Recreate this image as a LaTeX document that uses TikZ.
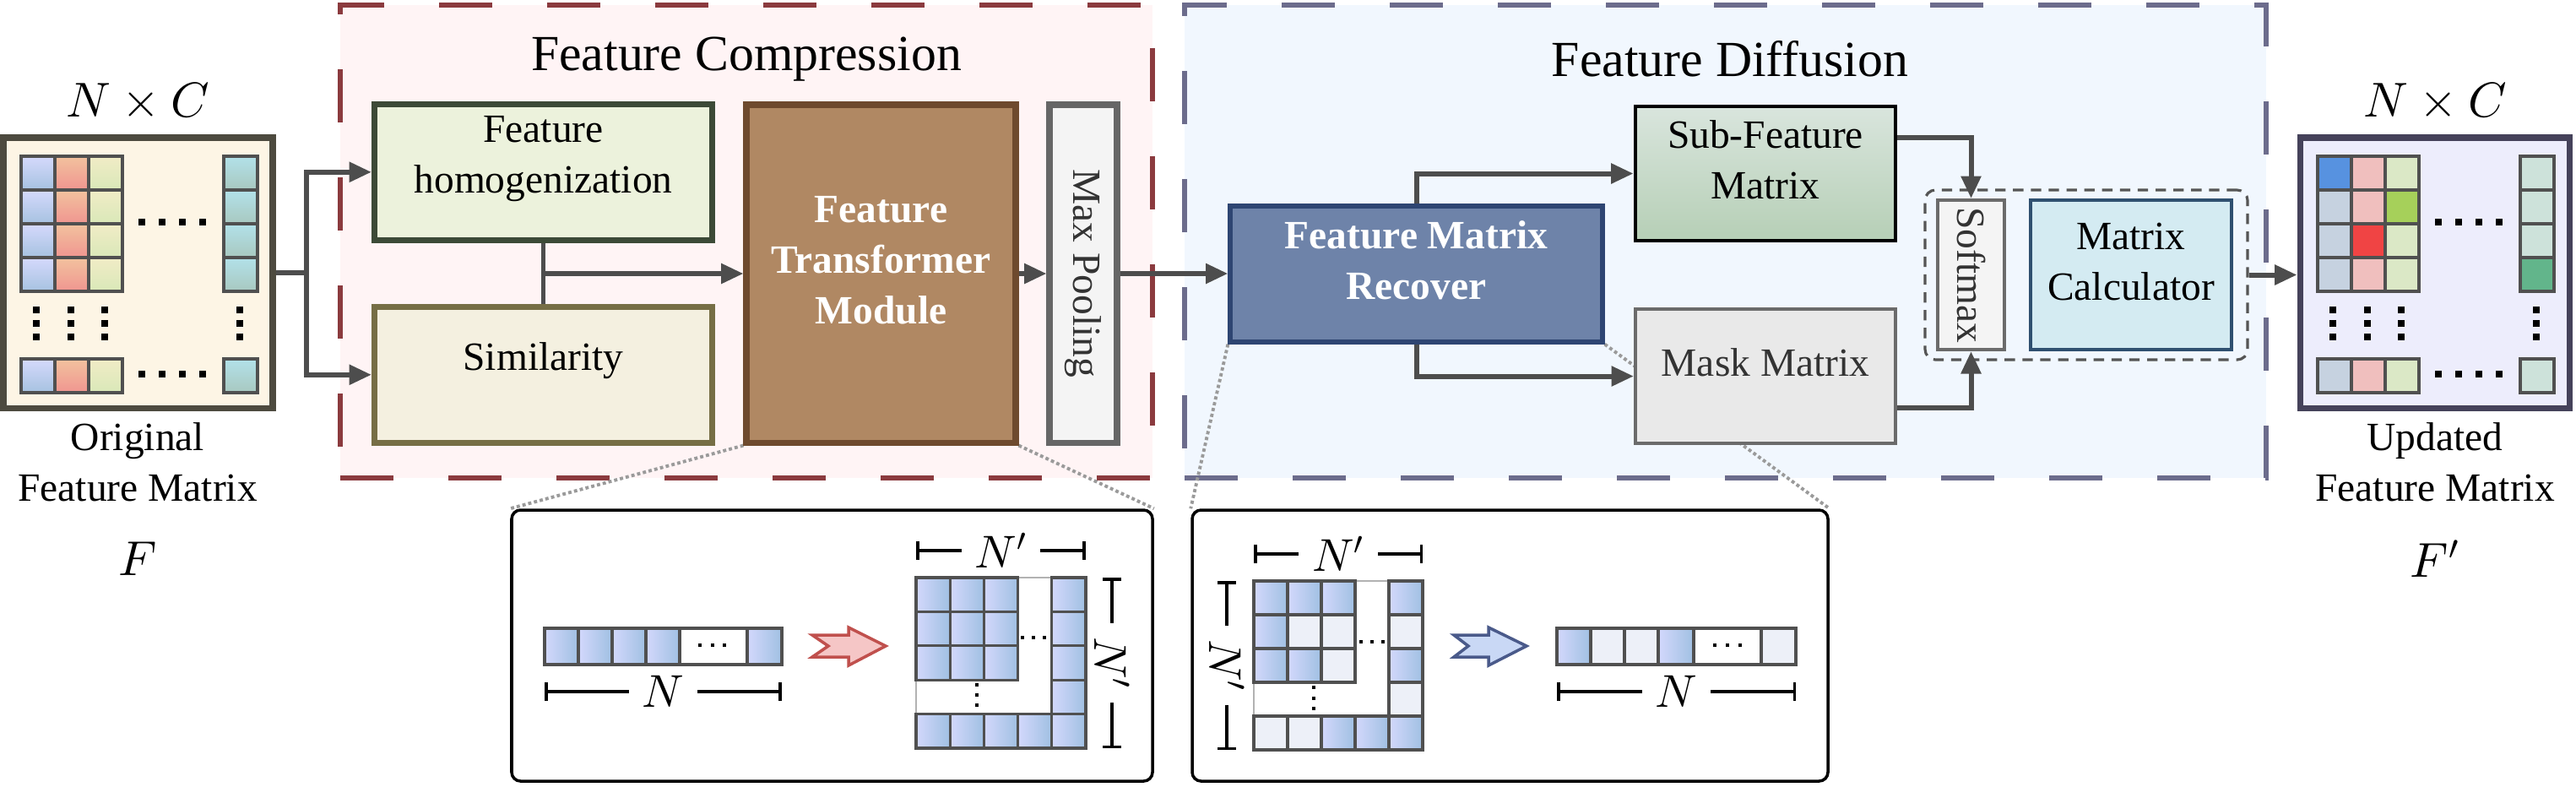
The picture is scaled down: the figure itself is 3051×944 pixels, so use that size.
\documentclass[tikz,border=0pt]{standalone}
\usepackage{fontspec}
\setmainfont{Liberation Serif}
\DeclareFontShape{OML}{cmm}{m}{it}{<->cmmi10}{}
\DeclareFontShape{OMS}{cmsy}{m}{n}{<->cmsy10}{}
\usetikzlibrary{arrows.meta,fit,calc}
\pgfdeclarelayer{bg}
\pgfdeclarelayer{mid}
\pgfsetlayers{bg,mid,main}

\definecolor{redd}{HTML}{8B3A3E}
\definecolor{redf}{HTML}{FFF4F5}
\definecolor{blued}{HTML}{6C6C8C}
\definecolor{bluef}{HTML}{F1F7FE}
\definecolor{cline}{HTML}{4D4D4D}
\definecolor{homd}{HTML}{3C4A37}
\definecolor{homf}{HTML}{ECF2DC}
\definecolor{simd}{HTML}{766E45}
\definecolor{simf}{HTML}{F4F0E0}
\definecolor{trd}{HTML}{6E4A2E}
\definecolor{trf}{HTML}{B08863}
\definecolor{mpd}{HTML}{666666}
\definecolor{mpf}{HTML}{F4F4F4}
\definecolor{fmd}{HTML}{2E4572}
\definecolor{fmf}{HTML}{6E83A9}
\definecolor{sft}{HTML}{D9E5DD}
\definecolor{sfb}{HTML}{B6CFB6}
\definecolor{mkd}{HTML}{6B6B6B}
\definecolor{mkf}{HTML}{E9E9E9}
\definecolor{mcd}{HTML}{2F5070}
\definecolor{mcf}{HTML}{D4EBF2}
\definecolor{grpd}{HTML}{555555}
\definecolor{darkt}{HTML}{333333}
\definecolor{lbd}{HTML}{4D4A3F}
\definecolor{lbf}{HTML}{FDF5E5}
\definecolor{rbd}{HTML}{45425A}
\definecolor{rbf}{HTML}{EDEDFC}
\definecolor{celld}{HTML}{505050}
\definecolor{ca1}{HTML}{D5D9FC}\definecolor{cb1}{HTML}{A6C2E0}
\definecolor{ca2}{HTML}{F2C29E}\definecolor{cb2}{HTML}{F09590}
\definecolor{ca3}{HTML}{F1ECC6}\definecolor{cb3}{HTML}{D9E8B8}
\definecolor{ca4}{HTML}{B2E1E9}\definecolor{cb4}{HTML}{A8C8C0}
\definecolor{rc1}{HTML}{C6D2E0}\definecolor{rs1}{HTML}{5792E0}
\definecolor{rc2}{HTML}{F0BFBE}\definecolor{rs2}{HTML}{F04444}
\definecolor{rc3}{HTML}{DBE8C6}\definecolor{rs3}{HTML}{A6D05A}
\definecolor{rc4}{HTML}{CDE2DA}\definecolor{rs4}{HTML}{62B58B}
\definecolor{pbl}{HTML}{D3D8FC}
\definecolor{pbr}{HTML}{A0C0E2}
\definecolor{lcell}{HTML}{EDF0F8}
\definecolor{raf}{HTML}{F5C6C6}
\definecolor{rad}{HTML}{C0504D}
\definecolor{baf}{HTML}{C9D8F5}
\definecolor{bad}{HTML}{4A5A8A}
\definecolor{zlc}{HTML}{9A9A9A}

\newcommand\bxfont{\fontsize{13.5}{17}\selectfont}
\newcommand\ttlfont{\fontsize{17}{20}\selectfont}
\newcommand\mthfont{\fontsize{16.5}{20}\selectfont}
\newcommand\pmthfont{\fontsize{15.5}{18}\selectfont}

\tikzset{
  conn/.style={draw=cline, line width=1.7pt},
  arr/.style={conn, -{Triangle[length=7.5pt,width=6.5pt]}},
  region/.style={line width=1.7pt, dash pattern=on 17.9pt off 18.5pt, inner sep=0pt},
  box/.style={draw, line width=2pt, inner sep=0pt, align=center, font=\bxfont},
  txt/.style={font=\bxfont, inner sep=0pt, align=center},
  ttl/.style={font=\ttlfont, inner sep=0pt},
  mth/.style={font=\mthfont, inner sep=0pt},
  cell/.style={draw=celld, line width=1pt},
  pcell/.style={draw=celld, line width=0.9pt},
  blueg/.style={left color=pbl, right color=pbr},
  panel/.style={draw=black, line width=1pt, rounded corners=3pt, fill=white, inner sep=0pt},
  brk/.style={line width=1pt, {Bar[width=6pt]}-{Bar[width=6pt]}},
  brklbl/.style={font=\pmthfont, fill=white, inner xsep=4.5pt, inner ysep=0pt},
  zl/.style={draw=zlc, line width=1.1pt, dash pattern=on 1.1pt off 0.9pt},
}

\begin{document}
\begin{tikzpicture}[x=0.01cm,y=-0.01cm]
\useasboundingbox (0,0) rectangle (3051,944);

\begin{pgfonlayer}{bg}
\fill[white] (0,0) rectangle (3051,944);
\node[region, draw=redd, fill=redf, fit={(403,6) (1365,566)}] (regC) {};
\node[region, draw=blued, fill=bluef, fit={(1403,6) (2684,566)}] (regD) {};
\end{pgfonlayer}

% titles
\node[ttl] (tC) at (884,70) {Feature Compression};
\node[ttl] (tD) at (2049,70) {Feature Diffusion};

% main boxes
\node[box, draw=homd, fill=homf, fit={(443.5,123.5) (843.5,284)}] (hom) {Feature\\homogenization};
\node[box, draw=simd, fill=simf, fit={(443.5,363.5) (843.5,524)}] (sim) {Similarity};
\node[box, draw=trd, fill=trf, text=white, font=\bxfont\bfseries, fit={(884,124) (1203,524)}] (tr) {Feature\\Transformer\\Module};
\node[box, draw=mpd, fill=mpf, fit={(1243,124) (1323,524)}] (mp) {};
\node[txt, rotate=-90, text=darkt] (mpt) at (mp.center) {Max Pooling};
\node[box, draw=fmd, fill=fmf, text=white, font=\bxfont\bfseries, line width=1.5pt, fit={(1457,244) (1898,405)}] (fm) {Feature Matrix\\Recover};
\node[box, draw=black, top color=sft, bottom color=sfb, line width=1.4pt, fit={(1937,126) (2245,285)}] (sf) {Sub-Feature\\Matrix};
\node[box, draw=mkd, fill=mkf, text=darkt, line width=1.2pt, fit={(1937,366) (2245,525)}] (mk) {Mask Matrix};
\node[box, draw=mkd, fill=mpf, line width=1.2pt, fit={(2295,237) (2374,414)}] (sm) {};
\node[txt, rotate=-90, text=darkt] (smt) at (sm.center) {Softmax};
\node[box, draw=mcd, fill=mcf, line width=1.2pt, fit={(2405,237) (2643,414)}] (mc) {Matrix\\Calculator};
\node[draw=grpd, line width=0.9pt, dash pattern=on 3.5pt off 2.5pt, rounded corners=3.5pt, inner sep=0pt, fit={(2280,225) (2662,426)}] (grp) {};

% big matrices
\node[draw=lbd, fill=lbf, line width=2pt, inner sep=0pt, fit={(4,163) (323,483)}] (LB) {};
\node[draw=rbd, fill=rbf, line width=2pt, inner sep=0pt, fit={(2724,163) (3043,483)}] (RB) {};

\begin{scope}[shift={(4,163)}]
\foreach \cx/\ct/\cb in {21/ca1/cb1,61/ca2/cb2,101/ca3/cb3,261/ca4/cb4}
  \foreach \ry in {22,62,102,142,262}
    \draw[cell, top color=\ct, bottom color=\cb] (\cx,\ry) rectangle ++(40,40);
\foreach \dx in {164,188,212,236} {
  \fill (\dx-4,96) rectangle ++(8,8);
  \fill (\dx-4,276) rectangle ++(8,8);
}
\foreach \dx in {39,80,120,280}
  \foreach \dy in {204,220,236}
    \fill (\dx-4,\dy-4) rectangle ++(8,8);
\end{scope}

\begin{scope}[shift={(2724,163)}]
\foreach \cx/\cc in {21/rc1,61/rc2,101/rc3,261/rc4}
  \foreach \ry in {22,62,102,142,262}
    \draw[cell, fill=\cc] (\cx,\ry) rectangle ++(40,40);
\draw[cell, fill=rs1] (21,22) rectangle ++(40,40);
\draw[cell, fill=rs2] (61,102) rectangle ++(40,40);
\draw[cell, fill=rs3] (101,62) rectangle ++(40,40);
\draw[cell, fill=rs4] (261,142) rectangle ++(40,40);
\foreach \dx in {164,188,212,236} {
  \fill (\dx-4,96) rectangle ++(8,8);
  \fill (\dx-4,276) rectangle ++(8,8);
}
\foreach \dx in {39,80,120,280}
  \foreach \dy in {204,220,236}
    \fill (\dx-4,\dy-4) rectangle ++(8,8);
\end{scope}

% labels
\node[mth] (nc1) at (163,121) {$N\times C$};
\node[mth] (nc2) at (2884,121) {$N\times C$};
\node[txt] (ofm) at (163,547) {Original\\Feature Matrix};
\node[txt] (ufm) at (2884,547) {Updated\\Feature Matrix};
\node[mth] (F1) at (163,662) {$F$};
\node[mth] (F2) at (2884,662) {$F'$};

% connectors
\coordinate (j1) at (363,323);
\draw[conn] (LB.east) -- (j1);
\draw[arr] (j1) |- (hom.west);
\draw[arr] (j1) |- (sim.west);
\draw[conn] (hom.south) -- (sim.north);
\draw[arr] (hom.south |- tr.west) -- (tr.west);
\draw[arr] (tr.east) -- (mp.west);
\draw[arr] (mp.east) -- (mp.east -| fm.west);
\draw[arr] (fm.north) |- (sf.west);
\draw[arr] (fm.south) |- (mk.west);
\draw[arr] ([yshift=0.425cm]sf.east) -| (sm.north);
\draw[arr] ([yshift=-0.375cm]mk.east) -| (sm.south);
\draw[arr] (grp.east) -- (grp.east -| RB.west);

% panels
\node[panel, fit={(606,604) (1365,925)}] (LP) {};
\node[panel, fit={(1412,604) (2165,925)}] (RP) {};

% ---- left panel
\foreach \x in {645,685,725,765} \draw[pcell, blueg] (\x,744) rectangle ++(40,43);
\draw[pcell, fill=white] (805,744) rectangle (885,787);
\draw[pcell, blueg] (885,744) rectangle (926,787);
\foreach \x in {829,844,858} \fill (\x-2,762) rectangle ++(4,4);
\draw[brk] (645,819) -- (926,819) node[midway, brklbl] (lpN) {$N$};

\draw[draw=rad, fill=raf, line width=1pt, line join=miter] (962,752) -- (1005,752) -- (1005,743) -- (1049,765) -- (1005,788) -- (1005,778) -- (962,778) -- (981,765) -- cycle;

\draw[line width=0.6pt, draw=gray!60, fill=white] (1085,684) rectangle (1286,886);
\foreach \c in {0,1,2} \foreach \r in {0,1,2}
  \draw[pcell, blueg] ({1085+40.2*\c},{684+40.4*\r}) rectangle ++(40.2,40.4);
\foreach \r in {0,...,4} \draw[pcell, blueg] (1245.8,{684+40.4*\r}) rectangle ++(40.2,40.4);
\foreach \c in {0,...,3} \draw[pcell, blueg] ({1085+40.2*\c},845.6) rectangle ++(40.2,40.4);
\foreach \x in {1211,1224,1237} \fill (\x-2,753) rectangle ++(4,4);
\foreach \y in {811,823,835} \fill (1155,\y-2) rectangle ++(4,4);
\draw[brk] (1085,652) -- (1286,652) node[midway, brklbl] (lpNt) {$N'$};
\draw[brk] (1317,684) -- (1317,886) node[midway, brklbl, rotate=-90] (lpNr) {$N'$};

% ---- right panel
\draw[brk] (1453,688) -- (1453,888) node[midway, brklbl, rotate=-90] (rpNl) {$N'$};
\draw[line width=0.6pt, draw=gray!60, fill=white] (1485,688) rectangle (1685,888);
\foreach \c/\r in {0/0,1/0,2/0,4/0,0/1,0/2,1/2,4/2,2/4,3/4,4/4}
  \draw[pcell, blueg] ({1485+40*\c},{688+40*\r}) rectangle ++(40,40);
\foreach \c/\r in {1/1,2/1,4/1,2/2,4/3,0/4,1/4}
  \draw[pcell, fill=lcell] ({1485+40*\c},{688+40*\r}) rectangle ++(40,40);
\foreach \x in {1612,1625,1638} \fill (\x-2,758) rectangle ++(4,4);
\foreach \y in {814,827,839} \fill (1554,\y-2) rectangle ++(4,4);
\draw[brk] (1485,656) -- (1685,656) node[midway, brklbl] (rpNt) {$N'$};

\draw[draw=bad, fill=baf, line width=1pt, line join=miter] (1722,752) -- (1763,752) -- (1763,743) -- (1808,765) -- (1763,788) -- (1763,778) -- (1722,778) -- (1739,765) -- cycle;

\draw[pcell, blueg] (1844,744) rectangle ++(40,43);
\draw[pcell, fill=lcell] (1884,744) rectangle ++(40,43);
\draw[pcell, fill=lcell] (1924,744) rectangle ++(40,43);
\draw[pcell, blueg] (1964,744) rectangle ++(42,43);
\draw[pcell, fill=white] (2006,744) rectangle (2086,787);
\draw[pcell, fill=lcell] (2086,744) rectangle (2127,787);
\foreach \x in {2031,2046,2061} \fill (\x-2,762) rectangle ++(4,4);
\draw[brk] (1844,819) -- (2127,819) node[midway, brklbl] (rpN) {$N$};

% zoom lines
\begin{pgfonlayer}{mid}
\draw[zl] (tr.south west) -- (LP.north west);
\draw[zl] (tr.south east) -- (LP.north east);
\draw[zl] (fm.south west) -- (RP.north west);
\draw[zl] (fm.south east) -- (RP.north east);
\end{pgfonlayer}
\end{tikzpicture}
\end{document}
